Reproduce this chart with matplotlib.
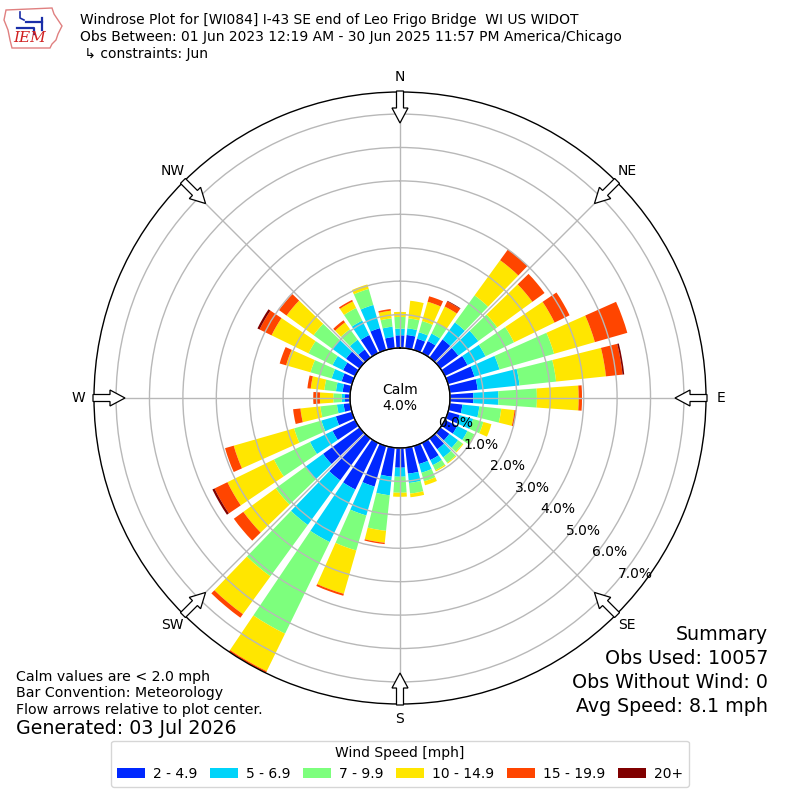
import numpy as np
import matplotlib
matplotlib.use("Agg")
import matplotlib.pyplot as plt
from matplotlib.patches import Polygon, Patch

# ---------------- data (percent of observations) ----------------
directions = list(range(0, 360, 10))
speed_labels = ["2 - 4.9", "5 - 6.9", "7 - 9.9", "10 - 14.9", "15 - 19.9", "20+"]
speed_colors = ["#0028ff", "#00d4fa", "#7dff7d", "#ffe600", "#ff4500", "#800000"]

bin_2_5 = [0.38, 0.40, 0.35, 0.40, 0.67, 0.66, 0.75, 0.82, 0.84, 0.70,
           0.38, 0.36, 0.41, 0.33, 0.40, 0.57, 0.56, 0.78, 0.59, 0.87,
           1.26, 1.55, 1.55, 1.35, 0.75, 0.50, 0.20, 0.15, 0.23, 0.32,
           0.40, 0.50, 0.30, 0.60, 0.68, 0.34]
bin_5_7 = [0.20, 0.20, 0.20, 0.25, 0.63, 0.74, 0.60, 0.78, 1.26, 0.75,
           0.51, 0.42, 0.34, 0.32, 0.30, 0.17, 0.27, 0.28, 0.27, 0.56,
           0.90, 1.75, 1.65, 0.65, 0.75, 0.45, 0.20, 0.10, 0.20, 0.31,
           0.35, 0.50, 0.36, 0.48, 0.72, 0.31]
bin_7_10 = [0.35, 0.30, 0.35, 0.35, 1.00, 0.70, 0.95, 1.70, 1.10, 1.15,
            0.66, 0.32, 0.23, 0.17, 0.20, 0.17, 0.27, 0.32, 0.48, 1.07,
            1.09, 3.05, 1.90, 1.10, 1.20, 0.85, 0.50, 0.25, 0.35, 0.66,
            0.80, 0.70, 0.39, 0.42, 0.50, 0.25]
bin_10_15 = [0.15, 0.53, 0.60, 0.55, 1.30, 1.30, 1.35, 1.27, 1.50, 1.25,
             0.40, 0.25, 0.02, 0.03, 0.03, 0.04, 0.12, 0.11, 0.12, 0.36,
             1.35, 1.25, 1.40, 1.20, 1.55, 1.88, 0.60, 0.40, 0.41, 0.76,
             1.23, 1.00, 0.25, 0.22, 0.14, 0.23]
bin_15_20 = [0.00, 0.00, 0.17, 0.17, 0.40, 0.45, 0.50, 1.01, 0.50, 0.10,
             0.05, 0.00, 0.00, 0.00, 0.00, 0.00, 0.00, 0.00, 0.00, 0.04,
             0.06, 0.06, 0.13, 0.35, 0.43, 0.27, 0.22, 0.20, 0.10, 0.20,
             0.40, 0.28, 0.08, 0.05, 0.00, 0.05]
bin_20_up = [0.00, 0.00, 0.00, 0.02, 0.00, 0.00, 0.00, 0.00, 0.05, 0.00,
             0.00, 0.00, 0.00, 0.00, 0.00, 0.00, 0.00, 0.00, 0.00, 0.00,
             0.00, 0.00, 0.00, 0.00, 0.07, 0.00, 0.00, 0.00, 0.00, 0.00,
             0.07, 0.00, 0.00, 0.00, 0.00, 0.00]
speed_bins = [bin_2_5, bin_5_7, bin_7_10, bin_10_15, bin_15_20, bin_20_up]

calm_pct = 4.0
ring_values = [0, 1, 2, 3, 4, 5, 6, 7]
compass_labels = ["N", "NE", "E", "SE", "S", "SW", "W", "NW"]

title_lines = [
    "Windrose Plot for [WI084] I-43 SE end of Leo Frigo Bridge  WI US WIDOT",
    "Obs Between: 01 Jun 2023 12:19 AM - 30 Jun 2025 11:57 PM America/Chicago",
    " \u21b3 constraints: Jun",
]
notes = ["Calm values are < 2.0 mph", "Bar Convention: Meteorology",
         "Flow arrows relative to plot center."]
generated = "Generated: 03 Jul 2026"
summary_lines = ["Summary", "Obs Used: 10057", "Obs Without Wind: 0",
                 "Avg Speed: 8.1 mph"]

# ---------------- figure ----------------
W = H = 800
CX, CY = 400, 398          # plot centre in pixels (y from top)
R_OUT = 306                # outer radius in pixels
R_CALM = 50                # calm circle radius in pixels
r_max = 7.66
r_origin = -R_CALM / ((R_OUT - R_CALM) / r_max)

fig = plt.figure(figsize=(8, 8), dpi=100)
ax = fig.add_axes([(CX - R_OUT) / W, (H - CY - R_OUT) / H,
                   2 * R_OUT / W, 2 * R_OUT / H], projection="polar")
ax.set_theta_zero_location("N")
ax.set_theta_direction(-1)
ax.set_rorigin(r_origin)
ax.set_ylim(0, r_max)

theta = np.deg2rad(directions)
bar_width = np.deg2rad(8.0)
bottom = np.zeros(len(directions))
for vals, col, lab in zip(speed_bins, speed_colors, speed_labels):
    vals = np.asarray(vals)
    ax.bar(theta, vals, width=bar_width, bottom=bottom, color=col,
           edgecolor="none", linewidth=0, label=lab, zorder=2)
    bottom = bottom + vals

ax.set_rgrids(ring_values, labels=[f"{v:.1f}%" for v in ring_values],
              angle=130, fontsize=10)
ax.set_thetagrids(range(0, 360, 45), labels=compass_labels, fontsize=10)
ax.tick_params(axis="x", pad=0.5)
ax.set_axisbelow(False)
ax.grid(True, color="#b8b8b8", linewidth=1.0)
for gl in ax.get_xgridlines() + ax.get_ygridlines():
    gl.set_zorder(3)
ax.spines["polar"].set_color("black")
ax.spines["polar"].set_linewidth(1.0)
tt = np.linspace(0, 2 * np.pi, 400)
ax.plot(tt, np.zeros_like(tt), color="black", linewidth=1.0, zorder=4,
        clip_on=False)

# ---------------- overlay (pixel coordinates) ----------------
ov = fig.add_axes([0, 0, 1, 1], facecolor="none")
ov.set_xlim(0, W)
ov.set_ylim(H, 0)
ov.axis("off")
ov.set_zorder(5)

# flow arrows
for d in range(0, 360, 45):
    a = np.deg2rad(d)
    u = np.array([np.sin(a), -np.cos(a)])
    p = np.array([np.cos(a), np.sin(a)])
    c = np.array([CX, CY])
    r0, rh, r1 = 307, 290, 275
    sw, hw = 3.5, 8.0
    pts = [c + r0 * u + sw * p, c + rh * u + sw * p, c + rh * u + hw * p,
           c + r1 * u, c + rh * u - hw * p, c + rh * u - sw * p,
           c + r0 * u - sw * p]
    ov.add_patch(Polygon(pts, closed=True, facecolor="white",
                         edgecolor="black", linewidth=0.9, zorder=6))

# calm text
ov.text(CX, CY, f"Calm\n{calm_pct:.1f}%", ha="center", va="center",
        fontsize=10, linespacing=1.1)

# logo
iowa = [(6, 10), (52, 8), (54, 14), (58, 20), (62, 26), (58, 34), (56, 40),
        (52, 44), (50, 48), (12, 48), (10, 40), (8, 30), (4, 20)]
ov.add_patch(Polygon(iowa, closed=True, facecolor="white",
                     edgecolor="#e08080", linewidth=1.0))
ov.plot([17, 34, 34], [28, 28, 34], color="#1a2ea8", linewidth=1.6)
ov.plot([26, 42], [22, 22], color="#1a2ea8", linewidth=1.6)
ov.plot([42, 42], [18, 30], color="#1a2ea8", linewidth=1.6)
ov.plot([20, 20, 24], [12, 18, 20], color="#1a2ea8", linewidth=1.2)
ov.text(13, 38, "IEM", color="#d02020", fontsize=11, fontstyle="italic",
        family="DejaVu Serif", va="center", ha="left")

# titles
for i, line in enumerate(title_lines):
    ov.text(80, 20 + 17 * i, line, fontsize=10, va="center", ha="left")

# notes
for i, line in enumerate(notes):
    ov.text(16, 677 + 16.5 * i, line, fontsize=10.2, va="center", ha="left")
ov.text(16, 729, generated, fontsize=13.7, va="center", ha="left")

for i, line in enumerate(summary_lines):
    ov.text(768, 635 + 23.7 * i, line, fontsize=13.7, va="center", ha="right")

handles = [Patch(facecolor=c, edgecolor="none") for c in speed_colors]
leg = fig.legend(handles, speed_labels, loc="lower center",
                 bbox_to_anchor=(0.5, 0.008), ncol=6, fontsize=10,
                 title="Wind Speed [mph]", title_fontsize=10,
                 frameon=True, handlelength=2.0, handletextpad=0.6,
                 columnspacing=0.9)

fig.savefig("out.png", dpi=100)
